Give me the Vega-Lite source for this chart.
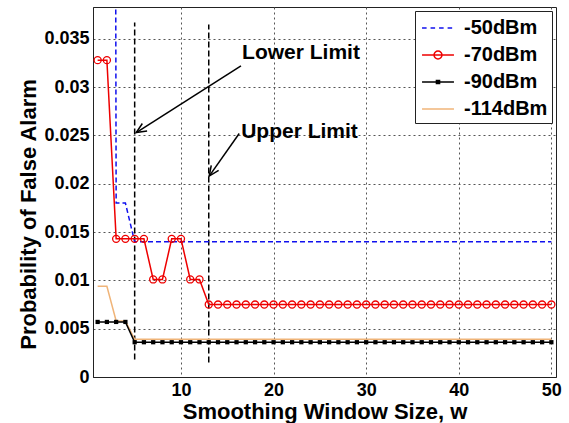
{
  "$schema": "https://vega.github.io/schema/vega-lite/v6.json",
  "width": 463,
  "height": 370,
  "autosize": {"type": "none"},
  "padding": {"left": 93, "top": 7, "right": 13, "bottom": 46},
  "background": "white",
  "config": {
    "view": {"stroke": "#222", "strokeWidth": 1},
    "axis": {
      "labelFont": "Liberation Sans", "labelFontWeight": "bold", "labelFontSize": 18, "labelColor": "#000",
      "titleFont": "Liberation Sans", "titleFontWeight": "bold", "titleFontSize": 22, "titleColor": "#000",
      "grid": true, "gridDash": [2, 3], "gridColor": "#555", "gridWidth": 1,
      "domainColor": "#222", "ticks": false
    },
    "legend": {
      "orient": "top-right", "offset": 4, "fillColor": "white", "strokeColor": "#222", "padding": 4,
      "labelFont": "Liberation Sans", "labelFontWeight": "bold", "labelFontSize": 20, "labelColor": "#000",
      "symbolSize": 576, "symbolStrokeWidth": 1.5, "rowPadding": 4, "labelOffset": 13, "symbolOffset": 6
    }
  },
  "datasets": {
    "curves": [
      {"w":1,"s":"-50dBm","p":0.5},{"w":2,"s":"-50dBm","p":0.5},{"w":3,"s":"-50dBm","p":0.018},{"w":4,"s":"-50dBm","p":0.018},{"w":5,"s":"-50dBm","p":0.014},
      {"w":6,"s":"-50dBm","p":0.014},{"w":7,"s":"-50dBm","p":0.014},{"w":8,"s":"-50dBm","p":0.014},{"w":9,"s":"-50dBm","p":0.014},{"w":10,"s":"-50dBm","p":0.014},
      {"w":11,"s":"-50dBm","p":0.014},{"w":12,"s":"-50dBm","p":0.014},{"w":13,"s":"-50dBm","p":0.014},{"w":14,"s":"-50dBm","p":0.014},{"w":15,"s":"-50dBm","p":0.014},
      {"w":16,"s":"-50dBm","p":0.014},{"w":17,"s":"-50dBm","p":0.014},{"w":18,"s":"-50dBm","p":0.014},{"w":19,"s":"-50dBm","p":0.014},{"w":20,"s":"-50dBm","p":0.014},
      {"w":21,"s":"-50dBm","p":0.014},{"w":22,"s":"-50dBm","p":0.014},{"w":23,"s":"-50dBm","p":0.014},{"w":24,"s":"-50dBm","p":0.014},{"w":25,"s":"-50dBm","p":0.014},
      {"w":26,"s":"-50dBm","p":0.014},{"w":27,"s":"-50dBm","p":0.014},{"w":28,"s":"-50dBm","p":0.014},{"w":29,"s":"-50dBm","p":0.014},{"w":30,"s":"-50dBm","p":0.014},
      {"w":31,"s":"-50dBm","p":0.014},{"w":32,"s":"-50dBm","p":0.014},{"w":33,"s":"-50dBm","p":0.014},{"w":34,"s":"-50dBm","p":0.014},{"w":35,"s":"-50dBm","p":0.014},
      {"w":36,"s":"-50dBm","p":0.014},{"w":37,"s":"-50dBm","p":0.014},{"w":38,"s":"-50dBm","p":0.014},{"w":39,"s":"-50dBm","p":0.014},{"w":40,"s":"-50dBm","p":0.014},
      {"w":41,"s":"-50dBm","p":0.014},{"w":42,"s":"-50dBm","p":0.014},{"w":43,"s":"-50dBm","p":0.014},{"w":44,"s":"-50dBm","p":0.014},{"w":45,"s":"-50dBm","p":0.014},
      {"w":46,"s":"-50dBm","p":0.014},{"w":47,"s":"-50dBm","p":0.014},{"w":48,"s":"-50dBm","p":0.014},{"w":49,"s":"-50dBm","p":0.014},{"w":50,"s":"-50dBm","p":0.014},

      {"w":1,"s":"-70dBm","p":0.0328},{"w":2,"s":"-70dBm","p":0.0328},{"w":3,"s":"-70dBm","p":0.0143},{"w":4,"s":"-70dBm","p":0.0143},{"w":5,"s":"-70dBm","p":0.0143},
      {"w":6,"s":"-70dBm","p":0.0143},{"w":7,"s":"-70dBm","p":0.0101},{"w":8,"s":"-70dBm","p":0.0101},{"w":9,"s":"-70dBm","p":0.0143},{"w":10,"s":"-70dBm","p":0.0143},
      {"w":11,"s":"-70dBm","p":0.0101},{"w":12,"s":"-70dBm","p":0.0101},{"w":13,"s":"-70dBm","p":0.0075},{"w":14,"s":"-70dBm","p":0.0075},{"w":15,"s":"-70dBm","p":0.0075},
      {"w":16,"s":"-70dBm","p":0.0075},{"w":17,"s":"-70dBm","p":0.0075},{"w":18,"s":"-70dBm","p":0.0075},{"w":19,"s":"-70dBm","p":0.0075},{"w":20,"s":"-70dBm","p":0.0075},
      {"w":21,"s":"-70dBm","p":0.0075},{"w":22,"s":"-70dBm","p":0.0075},{"w":23,"s":"-70dBm","p":0.0075},{"w":24,"s":"-70dBm","p":0.0075},{"w":25,"s":"-70dBm","p":0.0075},
      {"w":26,"s":"-70dBm","p":0.0075},{"w":27,"s":"-70dBm","p":0.0075},{"w":28,"s":"-70dBm","p":0.0075},{"w":29,"s":"-70dBm","p":0.0075},{"w":30,"s":"-70dBm","p":0.0075},
      {"w":31,"s":"-70dBm","p":0.0075},{"w":32,"s":"-70dBm","p":0.0075},{"w":33,"s":"-70dBm","p":0.0075},{"w":34,"s":"-70dBm","p":0.0075},{"w":35,"s":"-70dBm","p":0.0075},
      {"w":36,"s":"-70dBm","p":0.0075},{"w":37,"s":"-70dBm","p":0.0075},{"w":38,"s":"-70dBm","p":0.0075},{"w":39,"s":"-70dBm","p":0.0075},{"w":40,"s":"-70dBm","p":0.0075},
      {"w":41,"s":"-70dBm","p":0.0075},{"w":42,"s":"-70dBm","p":0.0075},{"w":43,"s":"-70dBm","p":0.0075},{"w":44,"s":"-70dBm","p":0.0075},{"w":45,"s":"-70dBm","p":0.0075},
      {"w":46,"s":"-70dBm","p":0.0075},{"w":47,"s":"-70dBm","p":0.0075},{"w":48,"s":"-70dBm","p":0.0075},{"w":49,"s":"-70dBm","p":0.0075},{"w":50,"s":"-70dBm","p":0.0075},

      {"w":1,"s":"-90dBm","p":0.0057},{"w":2,"s":"-90dBm","p":0.0057},{"w":3,"s":"-90dBm","p":0.0057},{"w":4,"s":"-90dBm","p":0.0057},{"w":5,"s":"-90dBm","p":0.0036},
      {"w":6,"s":"-90dBm","p":0.0036},{"w":7,"s":"-90dBm","p":0.0036},{"w":8,"s":"-90dBm","p":0.0036},{"w":9,"s":"-90dBm","p":0.0036},{"w":10,"s":"-90dBm","p":0.0036},
      {"w":11,"s":"-90dBm","p":0.0036},{"w":12,"s":"-90dBm","p":0.0036},{"w":13,"s":"-90dBm","p":0.0036},{"w":14,"s":"-90dBm","p":0.0036},{"w":15,"s":"-90dBm","p":0.0036},
      {"w":16,"s":"-90dBm","p":0.0036},{"w":17,"s":"-90dBm","p":0.0036},{"w":18,"s":"-90dBm","p":0.0036},{"w":19,"s":"-90dBm","p":0.0036},{"w":20,"s":"-90dBm","p":0.0036},
      {"w":21,"s":"-90dBm","p":0.0036},{"w":22,"s":"-90dBm","p":0.0036},{"w":23,"s":"-90dBm","p":0.0036},{"w":24,"s":"-90dBm","p":0.0036},{"w":25,"s":"-90dBm","p":0.0036},
      {"w":26,"s":"-90dBm","p":0.0036},{"w":27,"s":"-90dBm","p":0.0036},{"w":28,"s":"-90dBm","p":0.0036},{"w":29,"s":"-90dBm","p":0.0036},{"w":30,"s":"-90dBm","p":0.0036},
      {"w":31,"s":"-90dBm","p":0.0036},{"w":32,"s":"-90dBm","p":0.0036},{"w":33,"s":"-90dBm","p":0.0036},{"w":34,"s":"-90dBm","p":0.0036},{"w":35,"s":"-90dBm","p":0.0036},
      {"w":36,"s":"-90dBm","p":0.0036},{"w":37,"s":"-90dBm","p":0.0036},{"w":38,"s":"-90dBm","p":0.0036},{"w":39,"s":"-90dBm","p":0.0036},{"w":40,"s":"-90dBm","p":0.0036},
      {"w":41,"s":"-90dBm","p":0.0036},{"w":42,"s":"-90dBm","p":0.0036},{"w":43,"s":"-90dBm","p":0.0036},{"w":44,"s":"-90dBm","p":0.0036},{"w":45,"s":"-90dBm","p":0.0036},
      {"w":46,"s":"-90dBm","p":0.0036},{"w":47,"s":"-90dBm","p":0.0036},{"w":48,"s":"-90dBm","p":0.0036},{"w":49,"s":"-90dBm","p":0.0036},{"w":50,"s":"-90dBm","p":0.0036},

      {"w":1,"s":"-114dBm","p":0.0094},{"w":2,"s":"-114dBm","p":0.0094},{"w":3,"s":"-114dBm","p":0.0058},{"w":4,"s":"-114dBm","p":0.0058},{"w":5,"s":"-114dBm","p":0.0039},
      {"w":6,"s":"-114dBm","p":0.0039},{"w":7,"s":"-114dBm","p":0.0039},{"w":8,"s":"-114dBm","p":0.0039},{"w":9,"s":"-114dBm","p":0.0039},{"w":10,"s":"-114dBm","p":0.0039},
      {"w":11,"s":"-114dBm","p":0.0039},{"w":12,"s":"-114dBm","p":0.0039},{"w":13,"s":"-114dBm","p":0.0039},{"w":14,"s":"-114dBm","p":0.0039},{"w":15,"s":"-114dBm","p":0.0039},
      {"w":16,"s":"-114dBm","p":0.0039},{"w":17,"s":"-114dBm","p":0.0039},{"w":18,"s":"-114dBm","p":0.0039},{"w":19,"s":"-114dBm","p":0.0039},{"w":20,"s":"-114dBm","p":0.0039},
      {"w":21,"s":"-114dBm","p":0.0039},{"w":22,"s":"-114dBm","p":0.0039},{"w":23,"s":"-114dBm","p":0.0039},{"w":24,"s":"-114dBm","p":0.0039},{"w":25,"s":"-114dBm","p":0.0039},
      {"w":26,"s":"-114dBm","p":0.0039},{"w":27,"s":"-114dBm","p":0.0039},{"w":28,"s":"-114dBm","p":0.0039},{"w":29,"s":"-114dBm","p":0.0039},{"w":30,"s":"-114dBm","p":0.0039},
      {"w":31,"s":"-114dBm","p":0.0039},{"w":32,"s":"-114dBm","p":0.0039},{"w":33,"s":"-114dBm","p":0.0039},{"w":34,"s":"-114dBm","p":0.0039},{"w":35,"s":"-114dBm","p":0.0039},
      {"w":36,"s":"-114dBm","p":0.0039},{"w":37,"s":"-114dBm","p":0.0039},{"w":38,"s":"-114dBm","p":0.0039},{"w":39,"s":"-114dBm","p":0.0039},{"w":40,"s":"-114dBm","p":0.0039},
      {"w":41,"s":"-114dBm","p":0.0039},{"w":42,"s":"-114dBm","p":0.0039},{"w":43,"s":"-114dBm","p":0.0039},{"w":44,"s":"-114dBm","p":0.0039},{"w":45,"s":"-114dBm","p":0.0039},
      {"w":46,"s":"-114dBm","p":0.0039},{"w":47,"s":"-114dBm","p":0.0039},{"w":48,"s":"-114dBm","p":0.0039},{"w":49,"s":"-114dBm","p":0.0039},{"w":50,"s":"-114dBm","p":0.0039}
    ],
    "limits": [
      {"w": 5, "p": 0.0018, "p2": 0.0367},
      {"w": 13, "p": 0.0015, "p2": 0.0365}
    ],
    "arrows": [
      {"id": "lower", "w": 16.48, "p": 0.0322, "w2": 5.17, "p2": 0.0253},
      {"id": "upper", "w": 16.29, "p": 0.0252, "w2": 13.05, "p2": 0.0208}
    ],
    "labels": [
      {"label": "Lower Limit", "w": 16.6, "p": 0.0335},
      {"label": "Upper Limit", "w": 16.5, "p": 0.0254}
    ],
    "legendrows": [
      {"s": "-50dBm", "w": 46, "p": 0.035},
      {"s": "-70dBm", "w": 46, "p": 0.035},
      {"s": "-90dBm", "w": 46, "p": 0.035},
      {"s": "-114dBm", "w": 46, "p": 0.035}
    ]
  },
  "encoding": {
    "x": {"field": "w", "type": "quantitative",
      "scale": {"domain": [0.5, 50.5], "nice": false, "zero": false},
      "axis": {"title": "Smoothing Window Size, w", "values": [10, 20, 30, 40, 50], "labelPadding": 4, "titlePadding": 2, "labelFlush": false}},
    "y": {"field": "p", "type": "quantitative",
      "scale": {"domain": [0, 0.0383], "nice": false},
      "axis": {"title": "Probability of False Alarm", "values": [0, 0.005, 0.01, 0.015, 0.02, 0.025, 0.03, 0.035], "format": "~g", "labelPadding": 4, "titlePadding": 3, "titleY": 207}}
  },
  "layer": [
    {
      "data": {"name": "limits"},
      "mark": {"type": "rule", "color": "#000", "strokeWidth": 1.5, "strokeDash": [6, 3]},
      "encoding": {"y2": {"field": "p2"}}
    },
    {
      "data": {"name": "curves"},
      "transform": [{"filter": "datum.s === '-114dBm'"}],
      "mark": {"type": "line", "strokeWidth": 1.5, "color": "#f0b478", "clip": true},
      "encoding": {}
    },
    {
      "data": {"name": "curves"},
      "transform": [{"filter": "datum.s === '-90dBm'"}],
      "mark": {"type": "line", "strokeWidth": 1.5, "color": "#000000", "clip": true},
      "encoding": {}
    },
    {
      "data": {"name": "curves"},
      "transform": [{"filter": "datum.s === '-50dBm'"}],
      "mark": {"type": "line", "strokeWidth": 1.5, "color": "#1010ee", "strokeDash": [5, 3], "clip": true},
      "encoding": {}
    },
    {
      "data": {"name": "curves"},
      "transform": [{"filter": "datum.s === '-70dBm'"}],
      "mark": {"type": "line", "strokeWidth": 1.5, "color": "#ee0000", "clip": true},
      "encoding": {}
    },
    {
      "data": {"name": "curves"},
      "transform": [{"filter": "datum.s === '-70dBm'"}],
      "mark": {"type": "point", "shape": "circle", "filled": false, "color": "#ee0000", "size": 50, "strokeWidth": 1.3, "opacity": 1}
    },
    {
      "data": {"name": "curves"},
      "transform": [{"filter": "datum.s === '-90dBm'"}],
      "mark": {"type": "point", "shape": "square", "filled": true, "color": "#000", "size": 18, "opacity": 1}
    },
    {
      "data": {"name": "arrows"},
      "mark": {"type": "rule", "color": "#000", "strokeWidth": 1.5},
      "encoding": {"x2": {"field": "w2"}, "y2": {"field": "p2"}}
    },
    {
      "data": {"name": "arrows"},
      "transform": [{"filter": "datum.id === 'lower'"}],
      "mark": {"type": "point", "shape": "M-0.45,1L0,0L0.45,1", "filled": false, "color": "#000", "strokeWidth": 1.5, "size": 400, "angle": 238, "opacity": 1},
      "encoding": {"x": {"field": "w2", "type": "quantitative"}, "y": {"field": "p2", "type": "quantitative"}}
    },
    {
      "data": {"name": "arrows"},
      "transform": [{"filter": "datum.id === 'upper'"}],
      "mark": {"type": "point", "shape": "M-0.45,1L0,0L0.45,1", "filled": false, "color": "#000", "strokeWidth": 1.5, "size": 400, "angle": 215, "opacity": 1},
      "encoding": {"x": {"field": "w2", "type": "quantitative"}, "y": {"field": "p2", "type": "quantitative"}}
    },
    {
      "data": {"name": "labels"},
      "mark": {"type": "text", "font": "Liberation Sans", "fontWeight": "bold", "fontSize": 21, "align": "left", "baseline": "middle", "color": "#000"},
      "encoding": {"text": {"field": "label"}}
    },
    {
      "data": {"name": "legendrows"},
      "mark": {"type": "point", "filled": false, "opacity": 1, "strokeWidth": 1.5},
      "encoding": {
        "stroke": {"field": "s", "type": "nominal", "scale": {"domain": ["-50dBm", "-70dBm", "-90dBm", "-114dBm"], "range": ["#1010ee", "#ee0000", "#000000", "#f0b478"]}, "legend": {"title": null}},
        "shape": {"field": "s", "type": "nominal", "scale": {"domain": ["-50dBm", "-70dBm", "-90dBm", "-114dBm"], "range": [
          "M-1.33,0H-0.95M-0.62,0H-0.24M0.09,0H0.47M0.8,0H1.18",
          "M-1.33,0H1.33M0.33,0A0.33,0.33,0,1,1,-0.33,0A0.33,0.33,0,1,1,0.33,0",
          "M-1.33,0H1.33M-0.13,-0.13H0.13V0.13H-0.13Z",
          "M-1.33,0H1.33"
        ]}, "legend": {"title": null}},
        "size": {"value": 4}
      }
    }
  ]
}
